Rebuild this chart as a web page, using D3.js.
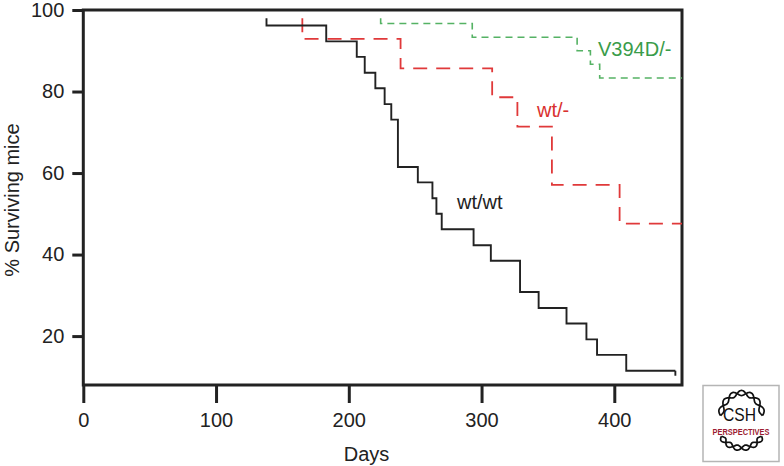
<!DOCTYPE html>
<html>
<head>
<meta charset="utf-8">
<script src="https://cdn.jsdelivr.net/npm/d3@7"></script>
<style>
  html, body { margin: 0; padding: 0; background: #fff; }
  svg { display: block; font-family: "Liberation Sans", Arial, Helvetica, sans-serif; }
</style>
</head>
<body>
<svg id="chart" width="784" height="466"></svg>
<script>
// ---- data ----
const xTicks = [0, 100, 200, 300, 400];
const yTicks = [20, 40, 60, 80, 100];

const startValue = 98; // top of the first drop mark for each curve

const wtwtDays = [138, 183, 206, 212, 220, 227, 232, 237, 252, 263, 266, 270, 294, 307, 329, 343, 364, 379, 387, 409];
const wtwtSurv = [96.2, 92.3, 88.5, 84.6, 80.8, 76.9, 73.1, 61.5, 57.7, 53.8, 50.0, 46.2, 42.3, 38.5, 30.8, 26.9, 23.1, 19.2, 15.4, 11.5];
const wtwtEnd = 446;

const wtMinusDays = [165, 239, 308, 327, 353, 404];
const wtMinusSurv = [92.9, 85.7, 78.6, 71.4, 57.1, 47.6];
const wtMinusEnd = 451;

const v394Days = [224, 293, 372, 382, 389];
const v394Surv = [96.7, 93.3, 90.0, 86.7, 83.3];
const v394End = 451;

const seriesNames = ["wt/wt", "wt/-", "V394D/-"];

// ---- layout ----
const svg = d3.select("#chart");
const x = d3.scaleLinear().domain([0, 451]).range([83.3, 682]);
const y = d3.scaleLinear().domain([8, 100]).range([385, 10]);

const ink = "#222";
const font = "Liberation Sans, Arial, Helvetica, sans-serif";

// axes
const xAxis = svg.append("g").attr("transform", `translate(0,${y(8)})`)
  .call(d3.axisBottom(x).tickValues(xTicks).tickSize(18).tickPadding(10).tickFormat(d3.format("d")));
const yAxis = svg.append("g").attr("transform", `translate(${x(0)},0)`)
  .call(d3.axisLeft(y).tickValues(yTicks).tickSize(11).tickPadding(8).tickFormat(d3.format("d")));
[xAxis, yAxis].forEach(g => {
  g.select(".domain").remove();
  g.selectAll(".tick line").attr("stroke", ink).attr("stroke-width", 3);
  g.selectAll(".tick text").attr("fill", ink).attr("font-size", 20).attr("font-family", font);
});

// frame
svg.append("path")
  .attr("d", `M${x(0)},${y(100)} V${y(8)} H${x(451)} V${y(100)} Z`)
  .attr("fill", "none").attr("stroke", ink).attr("stroke-width", 3)
  .attr("stroke-linejoin", "miter");

// curves
const line = d3.line().x(d => x(d[0])).y(d => y(d[1])).curve(d3.curveStepAfter);
function pts(days, surv, end) {
  const p = [[days[0], startValue]];
  days.forEach((d, i) => p.push([d, surv[i]]));
  p.push([end, surv[surv.length - 1]]);
  return p;
}

svg.append("path").datum(pts(v394Days, v394Surv, v394End))
  .attr("d", line).attr("fill", "none").attr("stroke", "#55b264")
  .attr("stroke-width", 1.6).attr("stroke-dasharray", "7,5");

svg.append("path").datum(pts(wtMinusDays, wtMinusSurv, wtMinusEnd))
  .attr("d", line).attr("fill", "none").attr("stroke", "#e0393a")
  .attr("stroke-width", 1.8).attr("stroke-dasharray", "14,9");

svg.append("path").datum(pts(wtwtDays, wtwtSurv, wtwtEnd))
  .attr("d", line).attr("fill", "none").attr("stroke", ink)
  .attr("stroke-width", 1.9);
// censor mark at end of wt/wt
svg.append("line")
  .attr("x1", x(wtwtEnd)).attr("x2", x(wtwtEnd))
  .attr("y1", y(wtwtSurv[wtwtSurv.length - 1])).attr("y2", y(wtwtSurv[wtwtSurv.length - 1]) + 5)
  .attr("stroke", ink).attr("stroke-width", 1.9);

// series labels
const labels = [
  { t: seriesNames[0], x: 457, y: 209, c: ink },
  { t: seriesNames[1], x: 537, y: 116.5, c: "#d9312f" },
  { t: seriesNames[2], x: 598, y: 55.5, c: "#3a9c4a" }
];
svg.selectAll("text.lab").data(labels).enter().append("text")
  .attr("class", "lab").attr("x", d => d.x).attr("y", d => d.y)
  .attr("fill", d => d.c).attr("font-size", 20).attr("font-family", font)
  .text(d => d.t);

// axis titles
svg.append("text").attr("x", 366.5).attr("y", 460.5).attr("text-anchor", "middle")
  .attr("font-size", 20).attr("fill", ink).attr("font-family", font).text("Days");
svg.append("text").attr("transform", "translate(18.5,200) rotate(-90)").attr("text-anchor", "middle")
  .attr("font-size", 20).attr("fill", ink).attr("font-family", font).text("% Surviving mice");

// CSH Perspectives logo
const logo = svg.append("g");
logo.append("rect").attr("x", 703).attr("y", 385.5).attr("width", 76).attr("height", 76)
  .attr("fill", "#fff").attr("stroke", "#b5b5b5").attr("stroke-width", 1.5);
function helix(cx, cy, rx, ry, a0, a1, turns) {
  const n = 90, amp = 2.6;
  const s1 = [], s2 = [];
  for (let i = 0; i <= n; i++) {
    const t = i / n, a = a0 + (a1 - a0) * t;
    const w = Math.sin(t * turns * Math.PI) * amp;
    const ux = Math.cos(a), uy = Math.sin(a);
    s1.push([cx + (rx + w) * ux, cy + (ry + w) * uy]);
    s2.push([cx + (rx - w) * ux, cy + (ry - w) * uy]);
  }
  const l = d3.line().curve(d3.curveBasis);
  [s1, s2].forEach(s => logo.append("path").attr("d", l(s)).attr("fill", "none")
    .attr("stroke", "#111").attr("stroke-width", 1.7));
}
helix(741.5, 418, 21, 25, Math.PI * 1.03, Math.PI * 1.97, 7);
helix(741.5, 431, 21, 17, Math.PI * 0.1, Math.PI * 0.9, 6);
logo.append("text").attr("x", 739.5).attr("y", 421.3).attr("text-anchor", "middle")
  .attr("font-size", 17.5).attr("fill", "#111").attr("font-family", "Liberation Sans Narrow, Liberation Sans, Arial, sans-serif")
  .attr("textLength", 33).attr("lengthAdjust", "spacingAndGlyphs").text("CSH");
logo.append("text").attr("x", 741).attr("y", 435).attr("text-anchor", "middle")
  .attr("font-size", 9).attr("font-weight", "bold").attr("fill", "#9c1c32")
  .attr("font-family", "Liberation Sans Narrow, Liberation Sans, Arial, sans-serif")
  .attr("textLength", 57).attr("lengthAdjust", "spacingAndGlyphs").text("PERSPECTIVES");
</script>
</body>
</html>
